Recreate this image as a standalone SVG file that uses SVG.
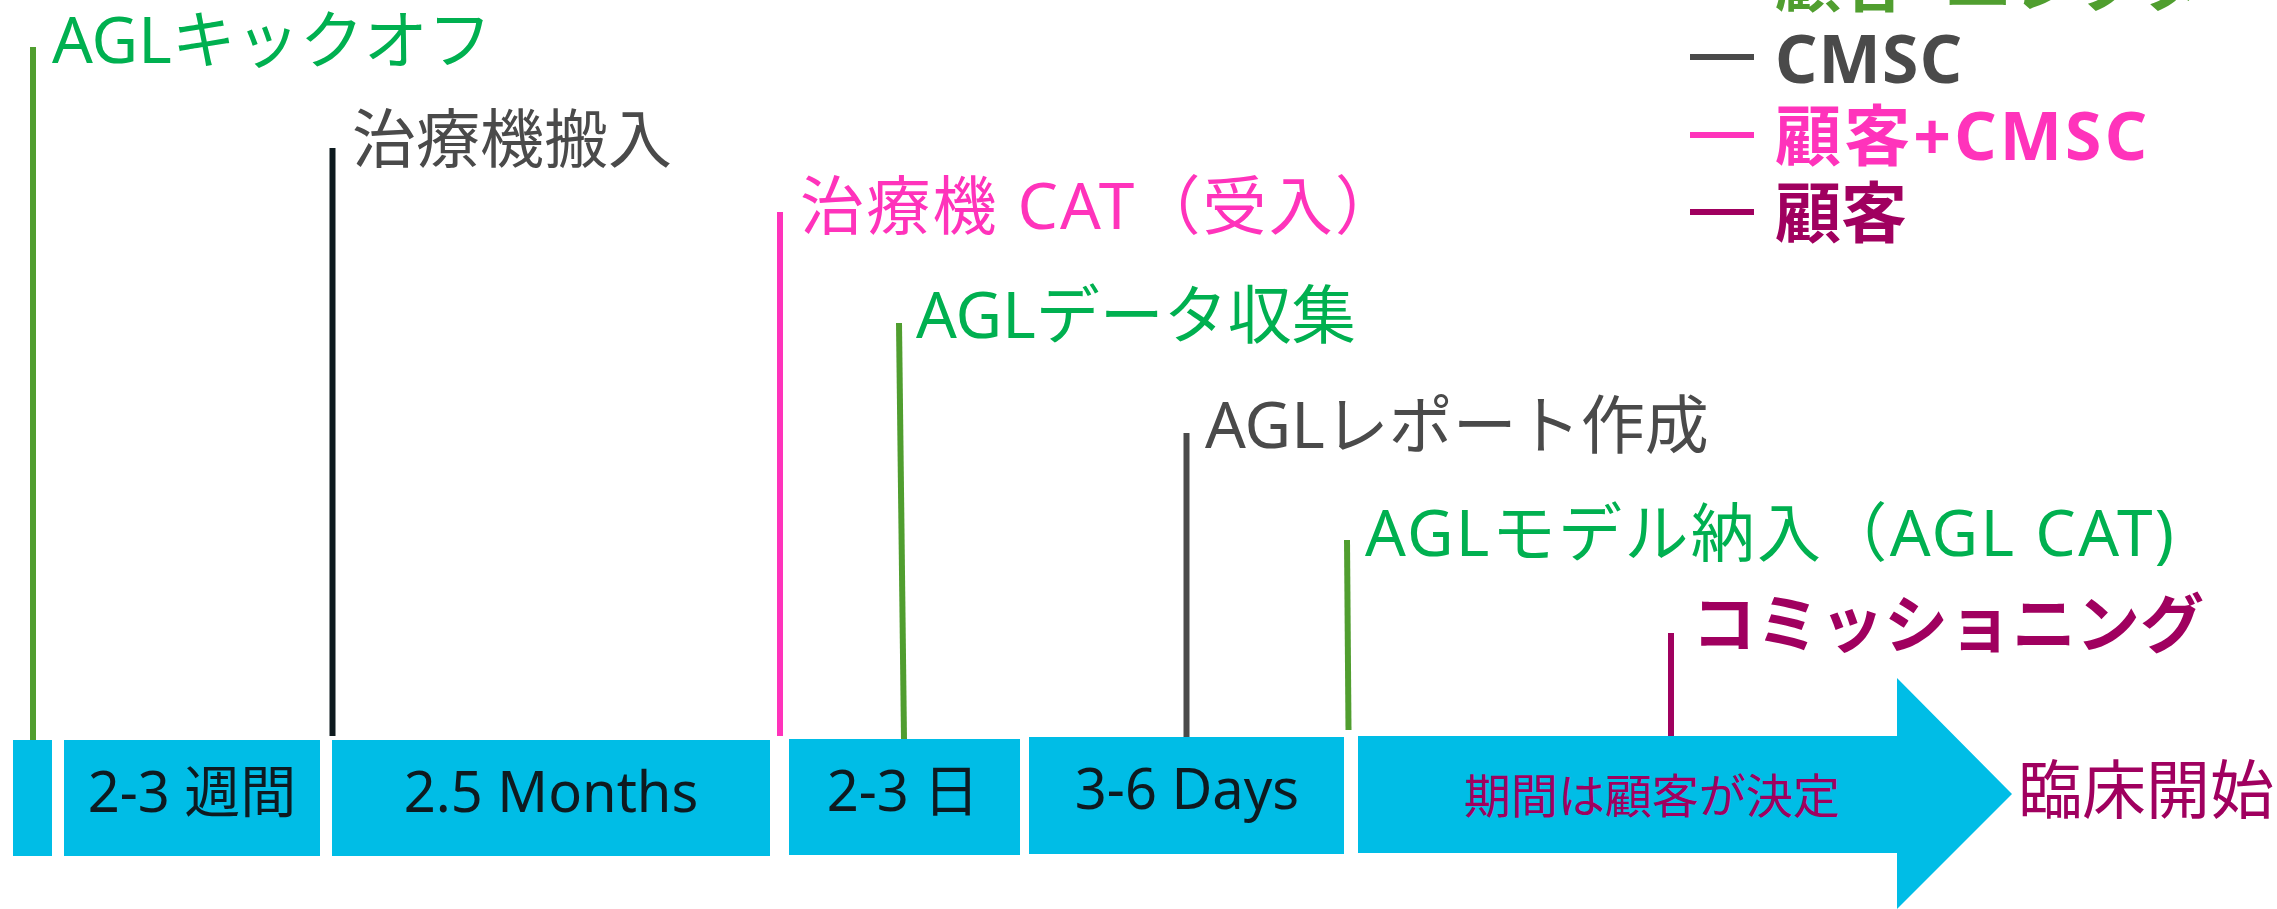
<svg xmlns="http://www.w3.org/2000/svg" width="2277" height="909" viewBox="0 0 2277 909">
<style>
text{font-family:"Noto Sans","Noto Sans CJK JP",sans-serif}
.lbl{font-size:64px}
.box{fill:#00bde6}
.bt{font-size:56px;fill:#0e1a20;text-anchor:middle}
.leg{font-size:66px;font-weight:bold}
.ln{stroke-width:6;fill:none}
.g{fill:#00b050}
.gl{stroke:#509e2f}
.gr{fill:#4a4a4a}
.grl{stroke:#4a4a4a}
.pk{fill:#ff33bb}
.pkl{stroke:#ff33bb}
.pu{fill:#a0005f}
.pul{stroke:#a0005f}
</style>
<rect width="2277" height="909" fill="#ffffff"/>
<g id="legend">
<line class="ln gl" x1="1690" y1="-20" x2="1754" y2="-20"/>
<text class="leg" x="1775" y="6" fill="#509e2f">顧客+エレクタ</text>
<line class="ln grl" x1="1690" y1="57" x2="1754" y2="57"/>
<text class="leg gr" x="1775" y="83" textLength="187">CMSC</text>
<line class="ln pkl" x1="1690" y1="135" x2="1754" y2="135"/>
<text class="leg pk" x="1775" y="160" textLength="372">顧客+CMSC</text>
<line class="ln pul" x1="1690" y1="212" x2="1754" y2="212"/>
<text class="leg pu" x="1775" y="237">顧客</text>
</g>
<g id="connectors">
<line class="ln gl" x1="33" y1="47" x2="33" y2="740"/>
<line class="ln" stroke="#0d1a1f" x1="332.5" y1="148" x2="332.5" y2="736"/>
<line class="ln pkl" x1="780" y1="212" x2="780" y2="736"/>
<line class="ln gl" x1="899" y1="323" x2="904" y2="739"/>
<line class="ln grl" x1="1186.5" y1="433" x2="1186.5" y2="737"/>
<line class="ln gl" x1="1347" y1="540" x2="1348.5" y2="730"/>
<line class="ln pul" x1="1671" y1="633" x2="1671" y2="736"/>
</g>
<g id="m-kickoff"><text class="lbl g" x="52" y="63">AGLキックオフ</text></g>
<g id="m-delivery"><text class="lbl gr" x="352" y="162">治療機搬入</text></g>
<g id="m-cat"><text class="lbl pk" x="800" y="229" textLength="599">治療機 CAT（受入）</text></g>
<g id="m-data"><text class="lbl g" x="916" y="338">AGLデータ収集</text></g>
<g id="m-report"><text class="lbl gr" x="1205" y="448">AGLレポート作成</text></g>
<g id="m-model"><text class="lbl g" x="1365" y="556" textLength="809">AGLモデル納入（AGL CAT)</text></g>
<g id="m-commissioning"><text class="lbl pu" x="1692" y="647" font-weight="bold" font-size="66">コミッショニング</text></g>
<g id="b1"><rect class="box" x="13" y="740" width="39" height="116"/></g>
<g id="b2"><rect class="box" x="64" y="740" width="256" height="116"/><text class="bt" x="192" y="812">2-3 週間</text></g>
<g id="b3"><rect class="box" x="332" y="740" width="438" height="116"/><text class="bt" x="551" y="812">2.5 Months</text></g>
<g id="b4"><rect class="box" x="789" y="739" width="231" height="116"/><text class="bt" x="903" y="811">2-3 日</text></g>
<g id="b5"><rect class="box" x="1029" y="737" width="315" height="117"/><text class="bt" x="1187" y="809">3-6 Days</text></g>
<g id="arrow"><path class="box" d="M1358 736 H1897 V678 L2012 794 L1897 909 V853 H1358 Z"/><text class="pu" x="1464" y="813" font-size="47">期間は顧客が決定</text></g>
<g id="clinical"><text class="lbl pu" x="2018" y="813">臨床開始</text></g>
</svg>
